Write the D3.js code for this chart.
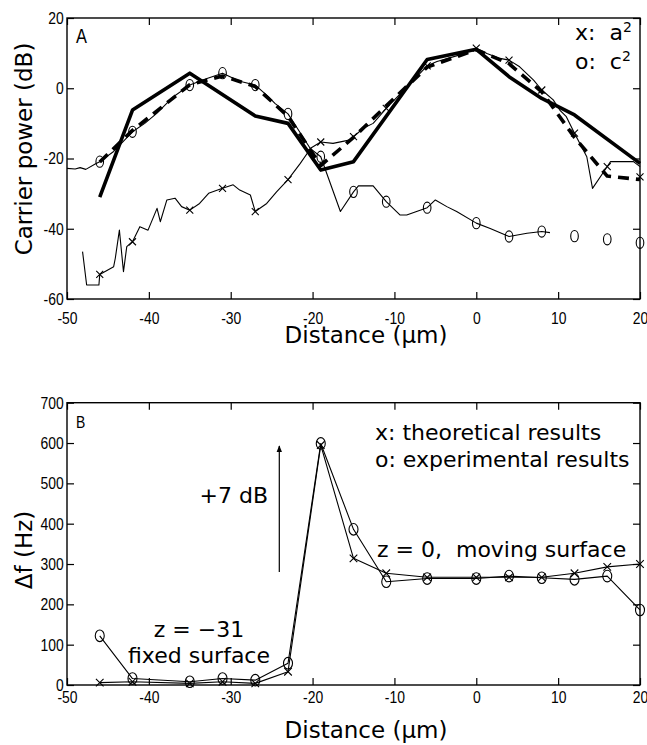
<!DOCTYPE html>
<html>
<head>
<meta charset="utf-8">
<script src="https://cdn.jsdelivr.net/npm/d3@7"></script>
<style>
  body { margin: 0; background: #fff; }
  svg { display: block; }
  text { white-space: pre; }
</style>
</head>
<body>
<div id="chart"></div>
<script>
// measurement positions (µm) shared by the markers of both panels
const stations = [-46, -42, -35, -31, -27, -23, -19, -15, -11, -6, 0, 4, 8, 12, 16, 20];

// panel A: marker values (dB)
const a2MarkerDb = [-53, -43.7, -34.7, -28.5, -35.1, -26, -15.3, -13.8, -5.7, 6.4, 11.4, 8, -0.5, -12.8, -22.3, -25.2];
const c2MarkerDb = [-20.9, -12.4, 0.9, 4.3, 0.9, -7.3, -19.5, -29.5, -32.3, -34, -38.4, -42.2, -40.8, -42.1, -43, -44];

// panel A: measured traces
const a2LineDist = [-48.1, -47.6, -46.1, -46, -44.3, -44.1, -43.6, -43.1, -42.7, -42, -41.1, -40.1, -39, -38.6, -37.8,
  -36.8, -36, -35, -33.8, -32.7, -31, -29.7, -28.9, -27.6, -27, -25.6, -24.4, -23, -21.5, -20.2, -19, -17.5, -15.4, -15,
  -13.8, -12.6, -11, -6, -4.8, -2, 0, 1.3, 2.9, 4, 5.3, 7, 8, 9.4, 10.2, 11, 12, 13.5, 14.2, 15.8, 16.4, 19.2, 20];
const a2LineDb = [-46.5, -56, -56, -53, -50.8, -48.4, -40.4, -52.2, -45.1, -43.7, -39.4, -40.4, -34.2, -38, -31.8,
  -31.3, -33.7, -34.7, -32.8, -29.9, -28.5, -27.5, -29, -30.4, -35.1, -32.8, -29.5, -26, -21.4, -17, -15.3, -15.7, -14.7, -13.8,
  -11.4, -10, -5.7, 6.4, 7.6, 9.5, 11.4, 9.9, 8.5, 8, 6.1, 2.3, -0.5, -3.3, -6.2, -8.1, -12.8, -19.5, -28.5, -23, -20.9, -20.9, -22.3];

const c2LineDist = [-50, -49, -48.4, -47.7, -46.5, -46, -44.3, -42, -40.5, -39, -37, -35, -32.9, -31, -28.9, -27,
  -25.4, -24.6, -23, -22, -20.3, -19, -16.6, -15, -14.4, -12.6, -11, -9.3, -8.5, -6, -5, -3.6, -2.4, 0, 1.7, 4, 6.2, 8, 9];
const c2LineDb = [-22.8, -23, -22.6, -23.1, -21.5, -20.9, -18, -12.4, -10, -7.1, -2.4, 0.9, 2.8, 4.3, 2, 0.9,
  -2.4, -4.3, -7.3, -10.9, -17.1, -19.5, -35.1, -29.5, -27.8, -27.8, -32.3, -36.1, -36.1, -34, -31.8, -33.7, -35.1, -38.4, -39.9, -42.2, -41.3, -40.8, -41.1];

// panel A: theory curves
const solidDist = [-46, -42, -35, -27, -23, -19, -15, -6, 0, 4, 8, 12, 20];
const solidDb = [-31, -6.2, 4.3, -7.9, -10, -23.3, -20.9, 8.2, 11.1, 3.3, -2.9, -7.6, -21.4];
const dashDist = [-46, -42, -35, -31, -27, -23, -19, -15, -11, -6, 0, 4, 8, 12, 16, 20];
const dashDb = [-21, -12, 1, 3.5, 0.5, -8, -22, -14, -5, 6, 11, 7, -1, -14, -25, -26];

// panel B: frequency shift (Hz)
const dfTheory = [6, 8, 4, 8, 4, 33, 595, 314, 277, 267, 267, 267, 267, 277, 293, 300];
const dfExperiment = [122, 16, 8, 16, 12, 54, 599, 386, 256, 264, 264, 270, 266, 262, 270, 186];

// ticks
const xTicks = [-50, -40, -30, -20, -10, 0, 10, 20];
const dbTicks = [-60, -40, -20, 0, 20];
const hzTicks = [0, 100, 200, 300, 400, 500, 600, 700];

const visualConfig = {
  width: 647,
  height: 745,
  left: 67,
  right: 640,
  tickFont: '"Liberation Sans", Arial, sans-serif',
  narrow: 0.82, // the original tick font is a condensed one
  labelFont: '"DejaVu Sans", Verdana, sans-serif',
  thin: 1.1,
  thick: 3.6,
};

const svg = d3
  .select('#chart')
  .append('svg')
  .attr('width', visualConfig.width)
  .attr('height', visualConfig.height);

svg
  .append('defs')
  .append('marker')
  .attr('id', 'arrow-head')
  .attr('viewBox', '0 -5 10 10')
  .attr('refX', 9)
  .attr('markerWidth', 7)
  .attr('markerHeight', 10)
  .attr('markerUnits', 'userSpaceOnUse')
  .attr('orient', 'auto')
  .append('path')
  .attr('d', 'M0,-4L10,0L0,4Z')
  .attr('fill', '#000');

const x = d3.scaleLinear().domain([-50, 20]).range([visualConfig.left, visualConfig.right]);
const yA = d3.scaleLinear().domain([-60, 20]).range([299, 18]);
const yB = d3.scaleLinear().domain([0, 700]).range([685, 402.7]);

function drawFrame(y, yTicks, labelPad) {
  const [bottom, top] = y.range();
  const g = svg.append('g');
  const fmt = (d) => String(d);

  const styleAxis = (sel) => {
    sel.select('.domain').remove();
    sel.attr('font-family', visualConfig.tickFont).attr('font-size', 17);
    sel.selectAll('line').attr('stroke-width', 1.2);
    sel.selectAll('text').attr('transform', `scale(${visualConfig.narrow},1)`);
  };

  g.append('g')
    .attr('transform', `translate(0,${bottom})`)
    .call(d3.axisBottom(x).tickValues(xTicks).tickSize(-7).tickPadding(labelPad).tickFormat(fmt))
    .call(styleAxis);
  g.append('g')
    .attr('transform', `translate(0,${top})`)
    .call(d3.axisTop(x).tickValues(xTicks).tickSize(-7).tickFormat(''))
    .call(styleAxis);
  g.append('g')
    .attr('transform', `translate(${visualConfig.left},0)`)
    .call(d3.axisLeft(y).tickValues(yTicks).tickSize(-7).tickPadding(4).tickFormat(fmt))
    .call(styleAxis);
  g.append('g')
    .attr('transform', `translate(${visualConfig.right},0)`)
    .call(d3.axisRight(y).tickValues(yTicks).tickSize(-7).tickFormat(''))
    .call(styleAxis);

  g.append('rect')
    .attr('x', visualConfig.left)
    .attr('y', top)
    .attr('width', visualConfig.right - visualConfig.left)
    .attr('height', bottom - top)
    .attr('fill', 'none')
    .attr('stroke', '#000')
    .attr('stroke-width', 1.4);
}

function drawLine(y, dist, vals, width, dash) {
  const line = d3
    .line()
    .x((d) => x(d[0]))
    .y((d) => y(d[1]));
  svg
    .append('path')
    .datum(d3.zip(dist, vals))
    .attr('d', line)
    .attr('fill', 'none')
    .attr('stroke', '#000')
    .attr('stroke-width', width)
    .attr('stroke-linejoin', 'round')
    .attr('stroke-dasharray', dash || null);
}

function drawCircles(y, dist, vals, rx, ry) {
  svg
    .append('g')
    .selectAll('ellipse')
    .data(d3.zip(dist, vals))
    .join('ellipse')
    .attr('cx', (d) => x(d[0]))
    .attr('cy', (d) => y(d[1]))
    .attr('rx', rx)
    .attr('ry', ry)
    .attr('fill', 'none')
    .attr('stroke', '#000')
    .attr('stroke-width', 1.1);
}

function drawCrosses(y, dist, vals, s) {
  svg
    .append('g')
    .selectAll('path')
    .data(d3.zip(dist, vals))
    .join('path')
    .attr('d', (d) => {
      const cx = x(d[0]);
      const cy = y(d[1]);
      return `M${cx - s},${cy - s}L${cx + s},${cy + s}M${cx - s},${cy + s}L${cx + s},${cy - s}`;
    })
    .attr('stroke', '#000')
    .attr('stroke-width', 1.1);
}

function addText(str, px, py, opts = {}) {
  const t = svg
    .append('text')
    .attr('font-family', opts.font || visualConfig.labelFont)
    .attr('font-size', opts.size || 22)
    .attr('text-anchor', opts.anchor || 'start')
    .attr('fill', '#000')
    .text(str);
  const sx = opts.scaleX || 1;
  const rot = opts.rotate ? ` rotate(${opts.rotate})` : '';
  t.attr('transform', `translate(${px},${py})${rot} scale(${sx},1)`);
  return t;
}

// ---- panel A ----
drawFrame(yA, dbTicks, 12.5);
drawLine(yA, c2LineDist, c2LineDb, visualConfig.thin);
drawLine(yA, a2LineDist, a2LineDb, visualConfig.thin);
drawLine(yA, solidDist, solidDb, visualConfig.thick);
drawLine(yA, dashDist, dashDb, visualConfig.thick, '11,7');
drawCircles(yA, stations, c2MarkerDb, 3.8, 5.6);
drawCrosses(yA, stations, a2MarkerDb, 3.5);

addText('A', 76, 43, { font: visualConfig.tickFont, size: 20, scaleX: visualConfig.narrow });
const legA1 = addText('x:  ', 575, 40);
legA1.append('tspan').text('a');
legA1.append('tspan').attr('font-size', 14).attr('dy', -8).text('2');
const legA2 = addText('o:  ', 575, 69);
legA2.append('tspan').text('c');
legA2.append('tspan').attr('font-size', 14).attr('dy', -8).text('2');

addText('Distance (μm)', 366, 343, { anchor: 'middle', size: 23 });
addText('Carrier power (dB)', 31.5, 149, { anchor: 'middle', size: 23, rotate: -90 });

// ---- panel B ----
drawFrame(yB, hzTicks, 6);
drawLine(yB, stations, dfExperiment, visualConfig.thin);
drawLine(yB, stations, dfTheory, visualConfig.thin);
drawCircles(yB, stations, dfExperiment, 4.5, 5.8);
drawCrosses(yB, stations, dfTheory, 3.8);

addText('B', 76, 428, { font: visualConfig.tickFont, size: 17, scaleX: visualConfig.narrow });
addText('x: theoretical results', 375, 440);
addText('o: experimental results', 375, 467);
addText('z = 0,  moving surface', 377, 557);
addText('z = −31', 199, 637, { anchor: 'middle' });
addText('fixed surface', 199, 663, { anchor: 'middle' });
addText('+7 dB', 268, 503, { anchor: 'end' });

svg
  .append('line')
  .attr('x1', 279.3)
  .attr('x2', 279.3)
  .attr('y1', 572)
  .attr('y2', 446)
  .attr('stroke', '#000')
  .attr('stroke-width', 1.2)
  .attr('marker-end', 'url(#arrow-head)');

addText('Distance (μm)', 366, 738, { anchor: 'middle', size: 23 });
addText('Δf (Hz)', 31.5, 550, { anchor: 'middle', size: 23, rotate: -90 });
</script>
</body>
</html>
